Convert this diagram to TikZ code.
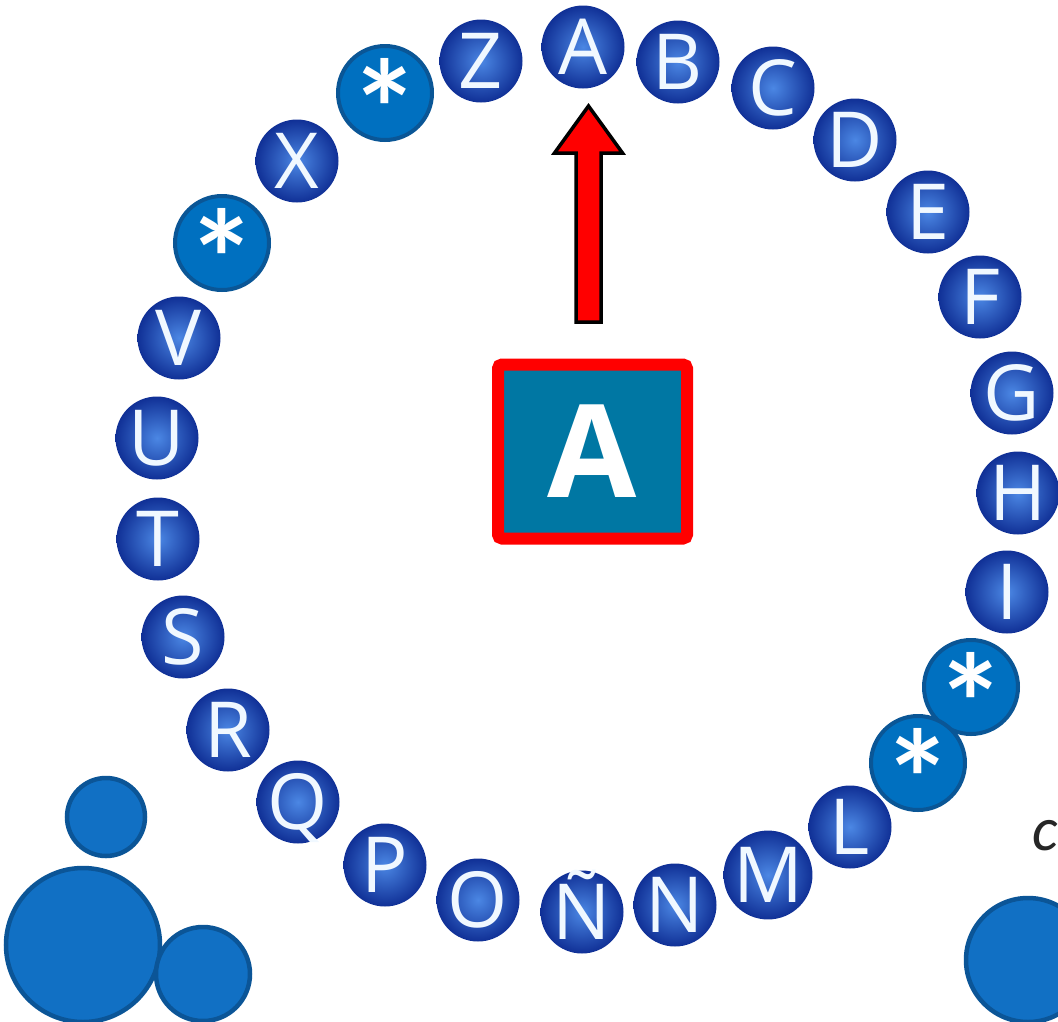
\documentclass[tikz,border=0pt]{standalone}
\usepackage{fontspec}
\setmainfont{Open Sans}
\newfontfamily\ballfont{Open Sans}
\newfontfamily\boldfont{Open Sans}
\newfontfamily\starfont{Lato}
\newfontfamily\handfont{Lato}
\usetikzlibrary{calc}
\definecolor{balledge}{RGB}{16,48,150}
\definecolor{ballin}{RGB}{75,135,228}
\definecolor{starfill}{RGB}{0,112,192}
\definecolor{starline}{RGB}{10,86,150}
\definecolor{dotfill}{RGB}{17,112,196}
\definecolor{dotline}{RGB}{11,85,151}
\definecolor{boxfill}{RGB}{0,119,163}
\definecolor{letterwhite}{RGB}{240,248,255}
\newcommand{\starglyph}{\raisebox{-50pt}{*}}
\begin{document}
\begin{tikzpicture}[x=0.75pt,y=-0.75pt,
  ball/.style={circle, minimum size={83*0.75pt}, inner sep=0pt,
    shading=radial, inner color=ballin, outer color=balledge,
    text=letterwhite, font=\ballfont\fontsize{58}{58}\selectfont,
    text height={41.4pt}, text depth=0pt},
  starball/.style={circle, minimum size={94*0.75pt}, inner sep=0pt,
    fill=starfill, draw=starline, line width={4*0.75pt},
    text=white, font=\starfont\bfseries\fontsize{100}{100}\selectfont,
    text height=0pt, text depth=0pt},
  dot/.style={circle, inner sep=0pt, fill=dotfill, draw=dotline, line width={4.5*0.75pt}},
  keybox/.style={rectangle, minimum width={189*0.75pt}, minimum height={174*0.75pt},
    inner sep=0pt, fill=boxfill, draw=red, line width={12*0.75pt}, rounded corners={3pt},
    text=white, font=\boldfont\bfseries\fontsize{97}{97}\selectfont,
    text height={69pt}, text depth=0pt},
  bigarrow/.style={fill=red, draw=black, line width={3.5*0.75pt}, line join=miter}
]
\useasboundingbox (0,0) rectangle (1058,1022);

% ring of letters
\node[ball] (lA) at (583,47) {A};
\node[ball] (lB) at (678,62) {B};
\node[ball] (lC) at (773,88) {C};
\node[ball] (lD) at (855,140) {D};
\node[ball] (lE) at (928,212) {E};
\node[ball] (lF) at (980,297) {F};
\node[ball] (lG) at (1012,393) {G};
\node[ball] (lH) at (1018,493) {H};
\node[ball] (lI) at (1007,592) {I};
\node[starball] (s1) at (971,687) {\starglyph};
\node[starball] (s2) at (918,763) {\starglyph};
\node[ball] (lL) at (850,827) {L};
\node[ball] (lM) at (768,875) {M};
\node[ball] (lN) at (675,905) {N};
\node[ball] (lNN) at (582,912) {Ñ};
\node[ball] (lO) at (478,900) {O};
\node[ball] (lP) at (385,865) {P};
\node[ball] (lQ) at (298,802) {Q};
\node[ball] (lR) at (228,730) {R};
\node[ball] (lS) at (183,637) {S};
\node[ball] (lT) at (158,539) {T};
\node[ball] (lU) at (157,438) {U};
\node[ball] (lV) at (179,338) {V};
\node[starball] (s3) at (222,243) {\starglyph};
\node[ball] (lX) at (297,161) {X};
\node[starball] (s4) at (385,93) {\starglyph};
\node[ball] (lZ) at (481,61) {Z};

% central key
\node[keybox] (key) at (592.5,451.5) {A};

% arrow
\coordinate (abase) at (588.5,322);
\coordinate (atip) at (588.5,106);
\draw[bigarrow] (atip) -- ($(atip)+(34,47)$) -- ($(atip)+(12.5,47)$) -- ($(abase)+(12.5,0)$)
  -- ($(abase)+(-12.5,0)$) -- ($(atip)+(-12.5,47)$) -- ($(atip)+(-34,47)$) -- cycle;

% decorative dots
\node[dot, minimum size={78*0.75pt}] (d1) at (106,817) {};
\node[dot, minimum size={154*0.75pt}] (d2) at (83,945) {};
\node[dot, minimum size={94*0.75pt}] (d3) at (203,974) {};
\node[dot, minimum size={124*0.75pt}] (d4) at (1028,960) {};
\node[anchor=base west, inner sep=0pt, font=\handfont\itshape\fontsize{44}{44}\selectfont, text=black!85] (tc) at (1032,850) {c};
\end{tikzpicture}
\end{document}
